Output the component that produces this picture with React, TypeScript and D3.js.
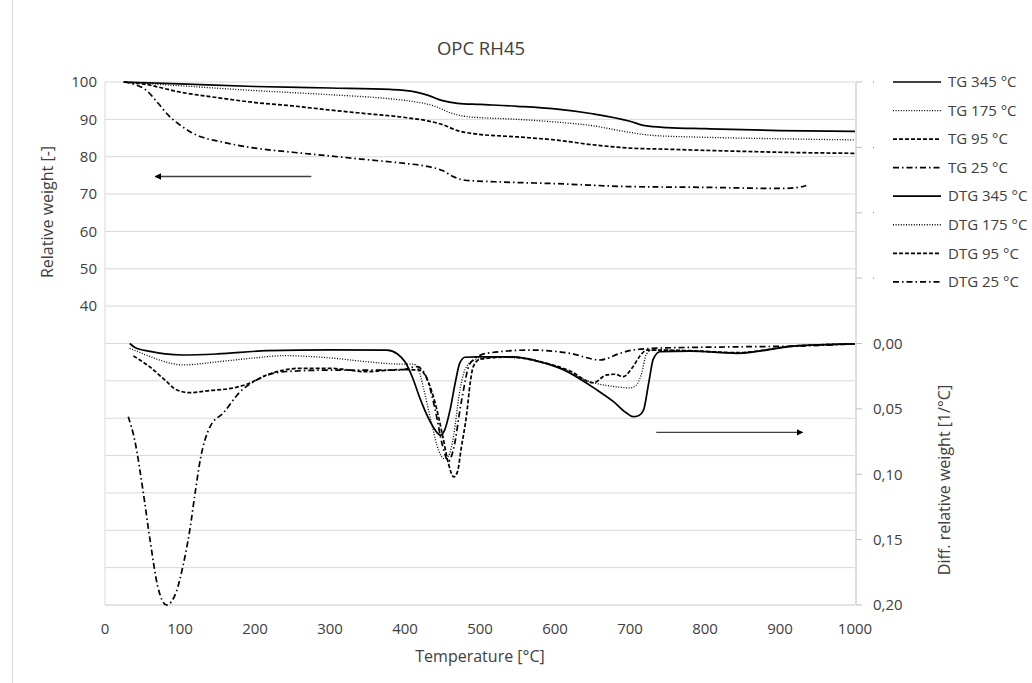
import React from "react";
import * as d3 from "d3";

/* ---------- data ---------- */
const title = "OPC RH45";
const xLabel = "Temperature [°C]";
const leftLabel = "Relative weight [-]";
const rightLabel = "Diff. relative weight [1/°C]";

const xTicks = [0, 100, 200, 300, 400, 500, 600, 700, 800, 900, 1000];
const leftTicks = [40, 50, 60, 70, 80, 90, 100];
const leftGrid = [-40, -30, -20, -10, 0, 10, 20, 30, 40, 50, 60, 70, 80, 90, 100];
const rightTicks = [0, 0.05, 0.1, 0.15, 0.2];
const rightHidden = [-0.2, -0.15, -0.1, -0.05];

type Pt = [number, number];

// TG curves, relative weight [-]
const tg345: Pt[] = [
  [25, 100], [100, 99.5], [200, 98.8], [300, 98.4], [380, 98], [410, 97.5], [430, 96.5],
  [450, 95], [470, 94.3], [500, 94], [550, 93.5], [600, 92.8], [650, 91.5], [700, 89.5],
  [720, 88.3], [750, 87.8], [800, 87.5], [900, 87], [1000, 86.8],
];
const tg175: Pt[] = [
  [25, 100], [100, 99], [200, 97.7], [300, 96.6], [380, 95.5], [410, 94.8], [440, 93.5],
  [460, 91.8], [480, 90.8], [550, 90], [600, 89.3], [650, 88.3], [700, 86.5], [730, 85.7],
  [800, 85.2], [900, 84.8], [1000, 84.5],
];
const tg95: Pt[] = [
  [25, 100], [50, 99.5], [100, 97.3], [150, 95.8], [200, 94.5], [250, 93.6], [300, 92.5],
  [350, 91.5], [400, 90.5], [430, 89.6], [450, 88.6], [470, 87], [490, 86.2], [550, 85.3],
  [600, 84.5], [650, 83.2], [700, 82.3], [750, 82], [800, 81.7], [900, 81.2], [1000, 80.9],
];
const tg25: Pt[] = [
  [25, 100], [40, 99.3], [55, 97.8], [70, 94.5], [85, 91], [100, 88.5], [115, 86.5],
  [130, 85.2], [150, 84.2], [200, 82.3], [250, 81.2], [300, 80.2], [350, 79.2], [400, 78.2],
  [430, 77.4], [450, 76.3], [465, 74.6], [480, 73.7], [520, 73.3], [600, 72.8], [700, 72],
  [800, 71.8], [900, 71.5], [925, 71.8], [935, 72.3],
];

// DTG curves, diff. relative weight [1/°C]
const dtg345: Pt[] = [
  [33, 0], [40, 0.003], [60, 0.006], [80, 0.008], [104, 0.0088], [150, 0.008], [216, 0.0055],
  [300, 0.0048], [376, 0.005], [390, 0.008], [400, 0.014], [410, 0.026], [420, 0.042],
  [432, 0.058], [440, 0.066], [447, 0.07], [453, 0.066], [460, 0.051], [467, 0.03],
  [473, 0.015], [480, 0.0105], [496, 0.0103], [544, 0.0103], [580, 0.014], [611, 0.02],
  [656, 0.0356], [678, 0.0445], [695, 0.053], [704, 0.056], [712, 0.055], [718, 0.051],
  [725, 0.03], [731, 0.012], [740, 0.0063], [780, 0.0058], [843, 0.0075], [918, 0.002],
  [1000, 0.0003],
];
const dtg175: Pt[] = [
  [33, 0.0037], [60, 0.01], [80, 0.014], [104, 0.0164], [150, 0.014], [200, 0.011],
  [238, 0.0093], [300, 0.011], [350, 0.014], [393, 0.0157], [411, 0.0157], [418, 0.02],
  [425, 0.035], [435, 0.06], [445, 0.082], [452, 0.088], [458, 0.086], [465, 0.07],
  [472, 0.04], [480, 0.02], [491, 0.013], [520, 0.0105], [560, 0.0115], [600, 0.017],
  [651, 0.03], [680, 0.033], [700, 0.034], [708, 0.032], [715, 0.024], [722, 0.008],
  [730, 0.005], [780, 0.0055], [843, 0.007], [918, 0.002], [1000, 0.0003],
];
const dtg95: Pt[] = [
  [38, 0.0096], [60, 0.018], [80, 0.028], [96, 0.0356], [113, 0.0376], [140, 0.036],
  [171, 0.034], [190, 0.031], [216, 0.024], [260, 0.019], [300, 0.019], [349, 0.0216],
  [390, 0.02], [420, 0.0203], [430, 0.028], [440, 0.045], [450, 0.07], [458, 0.092],
  [465, 0.102], [470, 0.098], [475, 0.08], [482, 0.055], [487, 0.03], [491, 0.0177],
  [500, 0.012], [540, 0.0103], [580, 0.014], [620, 0.021], [651, 0.03], [669, 0.024],
  [680, 0.0235], [691, 0.0254], [704, 0.0177], [714, 0.009], [722, 0.005], [780, 0.0055],
  [843, 0.007], [918, 0.002], [1000, 0.0003],
];
const dtg25: Pt[] = [
  [31, 0.056], [40, 0.075], [50, 0.11], [60, 0.15], [70, 0.185], [82, 0.2], [95, 0.19],
  [104, 0.17], [113, 0.143], [120, 0.115], [127, 0.089], [140, 0.0637], [158, 0.053],
  [180, 0.037], [202, 0.028], [238, 0.0216], [304, 0.0203], [393, 0.0203], [416, 0.0177],
  [428, 0.025], [440, 0.05], [450, 0.078], [458, 0.09], [465, 0.08], [475, 0.045],
  [487, 0.015], [509, 0.0075], [567, 0.005], [620, 0.0075], [660, 0.0126], [687, 0.0075],
  [704, 0.005], [740, 0.0035], [850, 0.0025], [918, 0.002], [1000, 0.0003],
];

const seriesNames = [
  "TG 345 °C", "TG 175 °C", "TG 95 °C", "TG 25 °C",
  "DTG 345 °C", "DTG 175 °C", "DTG 95 °C", "DTG 25 °C",
];

/* ---------- styles ---------- */
const dashes: Record<string, { dash?: string; w: number }> = {
  solid: { w: 1.7 },
  dotted: { dash: "1 1.6", w: 1.3 },
  dashed: { dash: "4 2", w: 1.7 },
  dashdot: { dash: "6 3 1.5 3", w: 1.7 },
};
const kinds = ["solid", "dotted", "dashed", "dashdot"];

const font = "'Open Sans', 'Liberation Sans', sans-serif";
const textColor = "#404040";

export default function App() {
  const width = 1032;
  const height = 683;
  const plot = { left: 105, right: 855, top: 82, bottom: 605 };

  const x = d3.scaleLinear().domain([0, 1000]).range([plot.left, plot.right]);
  const yL = d3.scaleLinear().domain([-40, 100]).range([plot.bottom, plot.top]);
  const yR = d3.scaleLinear().domain([-0.2, 0.2]).range([plot.top, plot.bottom]);

  const lineL = d3.line<Pt>().x(d => x(d[0])).y(d => yL(d[1])).curve(d3.curveMonotoneX);
  const lineR = d3.line<Pt>().x(d => x(d[0])).y(d => yR(d[1])).curve(d3.curveMonotoneX);

  const tgSeries = [tg345, tg175, tg95, tg25];
  const dtgSeries = [dtg345, dtg175, dtg95, dtg25];

  const legendX = 893;
  const legendY = 82;
  const legendStep = 28.55;

  return (
    <svg
      width={width}
      height={height}
      style={{ position: "absolute", left: 0, top: 0, background: "#fff" }}
      fontFamily={font}
    >
      <defs>
        <marker id="ah" viewBox="0 0 10 10" refX="9" refY="5" markerWidth="5" markerHeight="5" orient="auto-start-reverse">
          <path d="M0,0 L10,5 L0,10 z" fill="#000" />
        </marker>
      </defs>

      {/* chart border remnant */}
      <line x1={12.5} x2={12.5} y1={0} y2={height} stroke="#d9d9d9" />

      {/* title */}
      <text x={481} y={55} textAnchor="middle" fontSize={18.5} fill={textColor}>{title}</text>

      {/* gridlines */}
      {leftGrid.map(t => (
        <line key={t} x1={plot.left} x2={plot.right} y1={yL(t)} y2={yL(t)} stroke="#d9d9d9" strokeWidth={1} />
      ))}

      {/* axes lines */}
      <line x1={plot.left} x2={plot.left} y1={plot.top} y2={plot.bottom} stroke="#d9d9d9" />
      <line x1={plot.right + 1} x2={plot.right + 1} y1={plot.top} y2={plot.bottom} stroke="#bfbfbf" />
      <line x1={plot.left} x2={plot.right} y1={plot.bottom} y2={plot.bottom} stroke="#d9d9d9" />

      {/* left ticks */}
      {leftTicks.map(t => (
        <text key={t} x={97} y={yL(t)} dy="0.35em" textAnchor="end" fontSize={15} fill={textColor}>{t}</text>
      ))}

      {/* right ticks */}
      {[...rightHidden, ...rightTicks].map(t => (
        <line key={"rt" + t} x1={plot.right + 1} x2={plot.right + 7} y1={yR(t)} y2={yR(t)} stroke="#bfbfbf" />
      ))}
      {rightHidden.map(t => (
        <rect key={"rh" + t} x={873} y={yR(t) - 0.5} width={1} height={1} fill="#777" />
      ))}
      {rightTicks.map(t => (
        <text key={"rl" + t} x={873} y={yR(t)} dy="0.35em" fontSize={15} fill={textColor}>
          {d3.format(".2f")(t).replace(".", ",")}
        </text>
      ))}

      {/* x ticks */}
      {xTicks.map(t => (
        <text key={t} x={x(t)} y={634} textAnchor="middle" fontSize={15} fill={textColor}>{t}</text>
      ))}

      {/* axis titles */}
      <text x={480} y={662} textAnchor="middle" fontSize={16} fill={textColor}>{xLabel}</text>
      <text transform={`translate(53,212) rotate(-90)`} textAnchor="middle" fontSize={16} fill={textColor}>{leftLabel}</text>
      <text transform={`translate(950,480) rotate(-90)`} textAnchor="middle" fontSize={16} fill={textColor}>{rightLabel}</text>

      {/* arrows */}
      <line x1={x(275)} x2={x(67)} y1={yL(74.7)} y2={yL(74.7)} stroke="#404040" strokeWidth={1.3} markerEnd="url(#ah)" />
      <line x1={x(735)} x2={x(930)} y1={yR(0.068)} y2={yR(0.068)} stroke="#404040" strokeWidth={1.3} markerEnd="url(#ah)" />

      {/* TG curves */}
      {tgSeries.map((s, i) => {
        const st = dashes[kinds[i]];
        return (
          <path key={"tg" + i} d={lineL(s) ?? ""} fill="none" stroke="#000"
            strokeWidth={st.w} strokeDasharray={st.dash} />
        );
      })}

      {/* DTG curves */}
      {dtgSeries.map((s, i) => {
        const st = dashes[kinds[i]];
        return (
          <path key={"dtg" + i} d={lineR(s) ?? ""} fill="none" stroke="#000"
            strokeWidth={st.w} strokeDasharray={st.dash} />
        );
      })}

      {/* legend */}
      {seriesNames.map((name, i) => {
        const st = dashes[kinds[i % 4]];
        const y = legendY + i * legendStep;
        return (
          <g key={name}>
            <line x1={legendX} x2={legendX + 48} y1={y} y2={y} stroke="#000"
              strokeWidth={st.w} strokeDasharray={st.dash} />
            <text x={legendX + 55} y={y} dy="0.35em" fontSize={15} fill={textColor}>{name}</text>
          </g>
        );
      })}
    </svg>
  );
}
